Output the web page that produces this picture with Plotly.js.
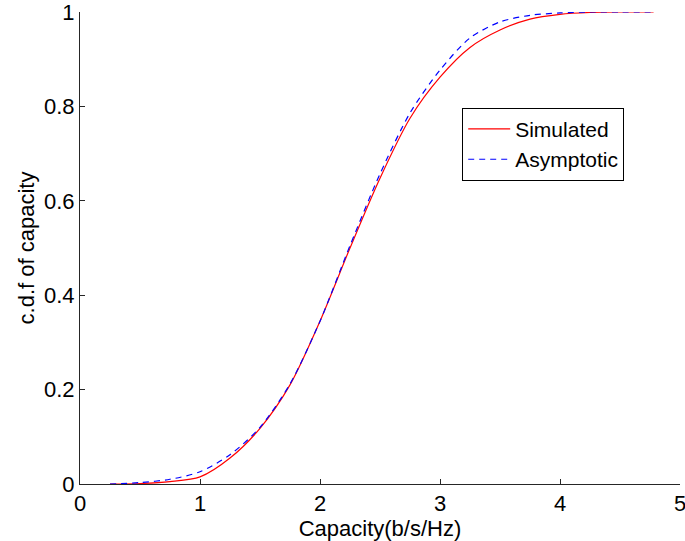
<!DOCTYPE html>
<html>
<head>
<meta charset="utf-8">
<script src="https://cdn.plot.ly/plotly-3.0.1.min.js"></script>
<style>html,body{margin:0;padding:0;background:#fff;}#chart{width:685px;height:541px;}</style>
</head>
<body>
<div id="chart"></div>
<script>
// Capacity values (b/s/Hz)
const capacity = [0.25, 0.5, 0.75, 1.0, 1.25, 1.5, 1.75, 2.0, 2.25, 2.5, 2.75, 3.0, 3.25, 3.5, 3.75, 4.0, 4.25, 4.5, 4.78];
// Simulated c.d.f
const simulated = [0, 0.001, 0.005, 0.015, 0.055, 0.118, 0.21, 0.345, 0.50, 0.648, 0.775, 0.862, 0.925, 0.962, 0.985, 0.995, 0.999, 1.0, 1.0];
// Asymptotic c.d.f
const asymptotic = [0, 0.003, 0.01, 0.026, 0.062, 0.12, 0.212, 0.345, 0.505, 0.657, 0.786, 0.877, 0.945, 0.979, 0.993, 0.998, 1.0, 1.0, 1.0];
const xTicks = [0, 1, 2, 3, 4, 5];
const yTicks = [0, 0.2, 0.4, 0.6, 0.8, 1];
const yTickLabels = ['0', '0.2', '0.4', '0.6', '0.8', '1'];

const FONT = '"Liberation Sans", Arial, Helvetica, sans-serif';
const AX = '#262626';

const traces = [
  {x: capacity, y: simulated, name: 'Simulated', type: 'scatter', mode: 'lines',
   line: {color: '#ff0000', width: 1.2, shape: 'spline', smoothing: 0.8}},
  {x: capacity, y: asymptotic, name: 'Asymptotic', type: 'scatter', mode: 'lines',
   line: {color: '#0000ff', width: 1.2, dash: '6px,5px', shape: 'spline', smoothing: 0.8}}
];

const layout = {
  width: 685, height: 541,
  margin: {l: 80, r: 5, t: 12, b: 57},
  paper_bgcolor: '#fff', plot_bgcolor: '#fff',
  font: {family: FONT, size: 22, color: '#000'},
  showlegend: true,
  legend: {x: 0.637, y: 0.797, xanchor: 'left', yanchor: 'top',
    bgcolor: '#fff', bordercolor: '#000', borderwidth: 1,
    font: {family: FONT, size: 21, color: '#000'}, tracegroupgap: 0, itemwidth: 42},
  xaxis: {range: [0, 5], tickvals: xTicks, ticktext: xTicks.map(String),
    showline: true, linecolor: AX, linewidth: 1, ticks: 'inside', ticklen: 5,
    tickcolor: AX, showgrid: false, zeroline: false, mirror: false,
    ticklabeloverflow: 'allow',
    tickfont: {family: FONT, size: 22, color: '#000'},
    title: {text: 'Capacity(b/s/Hz)', font: {family: FONT, size: 22, color: '#000'}, standoff: 0}},
  yaxis: {range: [0, 1], tickvals: yTicks, ticktext: yTickLabels,
    showline: true, linecolor: AX, linewidth: 1, ticks: 'inside', ticklen: 5,
    tickcolor: AX, showgrid: false, zeroline: false, mirror: false,
    ticklabeloverflow: 'allow',
    tickfont: {family: FONT, size: 22, color: '#000'},
    title: {text: 'c.d.f of capacity', font: {family: FONT, size: 22, color: '#000'}, standoff: 3}}
};

Plotly.newPlot('chart', traces, layout, {displayModeBar: false, staticPlot: true});
</script>
</body>
</html>
